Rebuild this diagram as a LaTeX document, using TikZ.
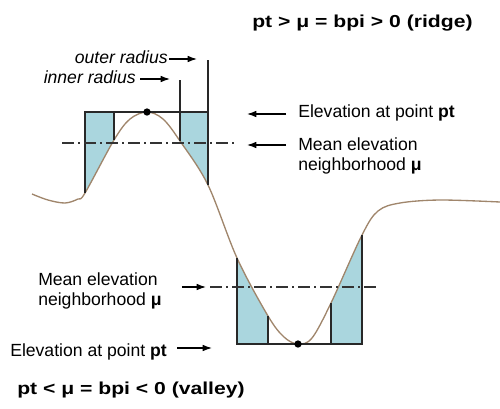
\documentclass[tikz,border=0pt]{standalone}
\usepackage{fontspec}
\setmainfont{Liberation Sans}
\newfontfamily\titlefont{Liberation Sans}[FakeStretch=1.22]
\usetikzlibrary{arrows.meta}
\definecolor{poolblue}{RGB}{170,214,222}
\definecolor{terrainbrown}{RGB}{160,134,108}
\definecolor{rimgray}{RGB}{40,40,40}
\tikzset{
  terrainline/.style={insert path={plot[smooth, tension=0.55] coordinates {(32,194) (48,200) (65,203) (78,199) (85,193) (114,140) (130,119) (147,112) (163,119) (180,141) (208,185) (237,258) (268,316) (284,337) (298,344) (312,338) (331,303) (362,235) (378,211) (400,203) (440,200) (500,202)}}}
}

\begin{document}
\begin{tikzpicture}[x=0.75pt, y=-0.75pt,
    rim/.style={draw=rimgray, line width=1pt},
    pool/.style={fill=poolblue},
    terrain/.style={draw=terrainbrown, line width=1pt},
    meanline/.style={draw=black!80, line width=0.9pt, dash pattern=on 9pt off 3pt on 1.5pt off 3pt},
    arrow/.style={-{Latex[length=7pt,width=5pt]}, line width=0.9pt, draw=black},
    dot/.style={circle, fill=black, inner sep=0pt, minimum size=5.5pt},
    lbl/.style={inner sep=0pt, font=\fontsize{13.2}{15}\selectfont, align=left},
    ttl/.style={inner sep=0pt, font=\titlefont\bfseries\fontsize{13}{15}\selectfont}
]
\useasboundingbox (0,0) rectangle (500,408);

% neighbourhood cells, ridge
\begin{scope}
  \clip[terrainline] -- (500,0) -- (32,0) -- cycle;
  \fill[pool] (85,112) rectangle (114,200);
  \fill[pool] (180,112) rectangle (208,200);
\end{scope}
% neighbourhood cells, valley
\begin{scope}
  \clip[terrainline] -- (500,408) -- (32,408) -- cycle;
  \fill[pool] (237,250) rectangle (268,344);
  \fill[pool] (331,230) rectangle (362,344);
\end{scope}

% terrain profile
\draw[terrain, terrainline];

% window outlines
\draw[rim] (85,193) -- (85,112) -- (208,112);
\draw[rim] (114,112) -- (114,140);
\draw[rim] (180,80) -- (180,141);
\draw[rim] (208,60) -- (208,185);
\draw[rim] (237,258) -- (237,344) -- (362,344) -- (362,235);
\draw[rim] (268,316) -- (268,344);
\draw[rim] (331,303) -- (331,344);

% mean elevation lines
\draw[meanline] (62,143) -- (236,143);
\draw[meanline] (210,287) -- (380,287);

% centre points
\node[dot] (peak) at (147,112) {};
\node[dot] (pit) at (298,344) {};

% titles
\node[ttl, anchor=base west] (ridgetitle) at (252,27) {pt > μ = bpi > 0 (ridge)};
\node[ttl, anchor=base west] (valleytitle) at (17,394) {pt < μ = bpi < 0 (valley)};

% labels
\node[lbl, font=\fontsize{13.2}{15}\selectfont\itshape, anchor=base east] (outerlbl) at (168,63) {outer radius};
\node[lbl, font=\fontsize{13.2}{15}\selectfont\itshape, anchor=base east] (innerlbl) at (136,83) {inner radius};
\node[lbl, anchor=base west] (relev) at (298,117) {Elevation at point \textbf{pt}};
\node[lbl, anchor=north west] (rmean) at (298,137) {Mean elevation\\neighborhood \textbf{μ}};
\node[lbl, anchor=north west] (lmean) at (38,272) {Mean elevation\\neighborhood \textbf{μ}};
\node[lbl, anchor=base west] (lelev) at (10,356) {Elevation at point \textbf{pt}};

% arrow tips
\coordinate (outertip) at (197,59);
\coordinate (innertip) at (170,79);
\coordinate (relevtip) at (247,114);
\coordinate (rmeantip) at (247,145);
\coordinate (lmeantip) at (206,287);
\coordinate (lelevtip) at (212,348);

% connectors
\draw[arrow, shorten <=1pt] (outerlbl.east |- outertip) -- (outertip);
\draw[arrow, shorten <=3pt] (innerlbl.east |- innertip) -- (innertip);
\draw[arrow, shorten <=9pt] (relev.west |- relevtip) -- (relevtip);
\draw[arrow, shorten <=9pt] (rmean.west |- rmeantip) -- (rmeantip);
\draw[arrow, shorten <=15pt] (lmean.east |- lmeantip) -- (lmeantip);
\draw[arrow, shorten <=7.5pt] (lelev.east |- lelevtip) -- (lelevtip);

\end{tikzpicture}
\end{document}
